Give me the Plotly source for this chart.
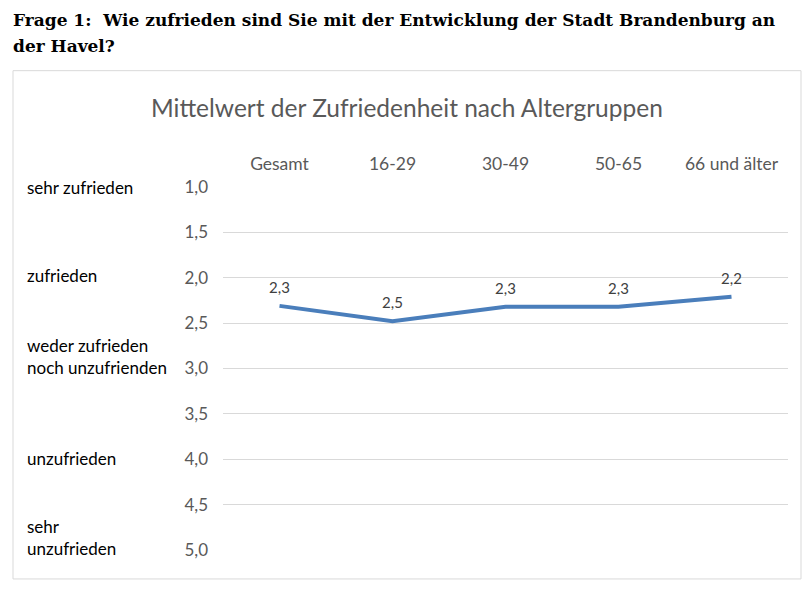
import plotly.graph_objects as go

categories = ["Gesamt", "16-29", "30-49", "50-65", "66 und älter"]
mittelwert = [2.31, 2.48, 2.32, 2.32, 2.21]
scale_labels = ["sehr zufrieden", "zufrieden", "weder zufrieden<br>noch unzufrienden", "unzufrieden", "sehr<br>unzufrieden"]
scale_values = [1.0, 1.98, 2.87, 3.99, 4.86]
tick_values = [1.0, 1.5, 2.0, 2.5, 3.0, 3.5, 4.0, 4.5, 5.0]
title_lines = ["Frage 1:  Wie zufrieden sind Sie mit der Entwicklung der Stadt Brandenburg an", "der Havel?"]

W, H = 812, 591
L, R, T, B = 223, 24, 186.5, 41
pw = W - L - R
ph = H - T - B

def px(x):
    return (x - L) / pw

def py(y):
    return (H - B - y) / ph

fig = go.Figure()
fig.add_trace(go.Scatter(
    x=categories, y=mittelwert, mode="lines+markers+text",
    line=dict(color="#4A7EBB", width=4),
    marker=dict(size=13, color="rgba(0,0,0,0)"),
    text=mittelwert, texttemplate="%{y:.1f}", textposition="top center",
    textfont=dict(family="Lato", size=15, color="#404040"),
    cliponaxis=False, showlegend=False, hoverinfo="skip",
))

fig.update_layout(
    width=W, height=H, autosize=False,
    margin=dict(l=L, r=R, t=T, b=B, pad=0),
    paper_bgcolor="white", plot_bgcolor="white",
    separators=",.",
    font=dict(family="Lato", color="#595959"),
    xaxis=dict(side="top", range=[-0.5, 4.5], showgrid=False, showline=False, zeroline=False,
               ticks="", tickfont=dict(size=17.5, color="#595959"), ticklabelstandoff=13),
    yaxis=dict(range=[5.0, 1.0], tickvals=tick_values, tickformat=".1f",
               showgrid=True, gridcolor="#D9D9D9", gridwidth=1, zeroline=False,
               showline=False, ticks="", tickfont=dict(size=17, color="#595959"),
               ticklabelstandoff=14),
)

# outer chart border
fig.add_shape(type="rect", xref="paper", yref="paper",
              x0=px(13), x1=px(801), y0=py(579), y1=py(70),
              line=dict(color="#D9D9D9", width=1), fillcolor="rgba(0,0,0,0)", layer="below")

# page title (two lines)
for line_text, cy in zip(title_lines, [19.5, 45.5]):
    fig.add_annotation(xref="paper", yref="paper", x=px(11), y=py(cy), xanchor="left", yanchor="middle",
                       align="left", showarrow=False, text="<b>" + line_text + "</b>",
                       font=dict(family="DejaVu Serif", size=17, color="#000000"))

# chart title
fig.add_annotation(xref="paper", yref="paper", x=px(407), y=py(107), xanchor="center", yanchor="middle",
                   showarrow=False, text="Mittelwert der Zufriedenheit nach Altergruppen",
                   font=dict(family="Lato", size=24.5, color="#595959"))

# scale labels
for lab, v in zip(scale_labels, scale_values):
    fig.add_annotation(xref="paper", yref="y", x=px(25), y=v, xanchor="left", yanchor="middle",
                       align="left", showarrow=False, text=lab,
                       font=dict(family="Lato", size=17, color="#000000"))

fig.write_html("out.html", config={"displayModeBar": False},
               post_script="document.body.style.margin='0';")
